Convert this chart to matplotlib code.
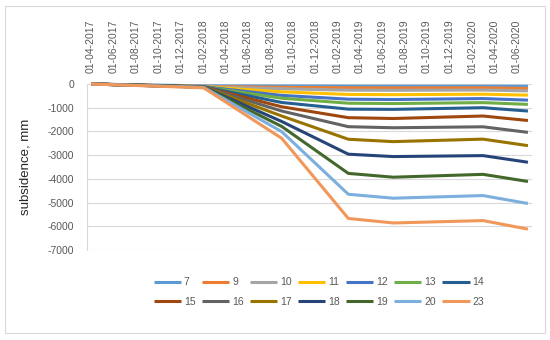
import matplotlib.pyplot as plt
import matplotlib.dates as mdates
from matplotlib.patches import Rectangle
import pandas as pd

# -----------------------------
# data
# -----------------------------
dates = pd.to_datetime(["2017-04-01", "2018-02-01", "2018-09-01", "2019-03-01",
                        "2019-07-01", "2020-03-01", "2020-07-01"])

s7 = [0, -80, -85, -90, -92, -90, -95]
s9 = [0, -100, -140, -160, -165, -160, -190]
s10 = [0, -110, -200, -260, -265, -255, -290]
s11 = [0, -115, -330, -440, -450, -430, -470]
s12 = [0, -115, -480, -640, -655, -615, -680]
s13 = [0, -120, -600, -810, -825, -785, -860]
s14 = [0, -120, -780, -1060, -1070, -1000, -1140]
s15 = [0, -125, -960, -1420, -1455, -1350, -1540]
s16 = [0, -125, -1140, -1800, -1845, -1805, -2040]
s17 = [0, -130, -1350, -2330, -2430, -2325, -2600]
s18 = [0, -130, -1580, -2960, -3060, -3020, -3300]
s19 = [0, -135, -1790, -3770, -3930, -3810, -4110]
s20 = [0, -140, -2010, -4650, -4815, -4705, -5040]
s23 = [0, -160, -2290, -5670, -5860, -5760, -6120]

labels = ["7", "9", "10", "11", "12", "13", "14",
          "15", "16", "17", "18", "19", "20", "23"]
series = [s7, s9, s10, s11, s12, s13, s14, s15, s16, s17, s18, s19, s20, s23]

tick_dates = pd.date_range("2017-04-01", "2020-06-01", freq="2MS")
yticks = [0, -1000, -2000, -3000, -4000, -5000, -6000, -7000]

# Excel office palette
colors = ["#5B9BD5", "#ED7D31", "#A5A5A5", "#FFC000", "#4472C4", "#70AD47", "#255E91",
          "#9E480E", "#636363", "#997300", "#264478", "#43682B", "#7CAFDD", "#F1975A"]

plt.rcParams["font.family"] = ["Liberation Sans", "DejaVu Sans"]
grey = "#595959"

fig = plt.figure(figsize=(5.5, 3.4), dpi=100)
fig.patches.append(Rectangle((5 / 550, 1 - 333 / 340), 540 / 550, 327 / 340,
                             transform=fig.transFigure, fill=False,
                             edgecolor="#D9D9D9", linewidth=0.8))

ax = fig.add_axes([87 / 550, 1 - 250 / 340, 445 / 550, 166 / 340])

for vals, lab, c in zip(series, labels, colors):
    ax.plot(dates, vals, color=c, linewidth=2.2, label=lab, clip_on=False,
            solid_capstyle="butt", solid_joinstyle="round")

# y axis
ax.set_ylim(-7000, 0)
ax.set_yticks(yticks)
ax.set_yticklabels([str(v) for v in yticks])
ax.grid(axis="y", color="#D9D9D9", linewidth=0.8)
ax.set_axisbelow(True)
ax.set_ylabel("subsidence, mm", fontsize=9.5, color="#262626", labelpad=12)

# x axis (dates on top)
ax.set_xlim(pd.Timestamp("2017-03-21"), pd.Timestamp("2020-07-12"))
ax.xaxis.tick_top()
ax.set_xticks(tick_dates)
ax.xaxis.set_major_formatter(mdates.DateFormatter("%d-%m-%Y"))
ax.tick_params(axis="x", rotation=90, length=0, pad=8, labelsize=7.5, labelcolor=grey)
ax.tick_params(axis="y", length=0, pad=9, labelsize=7.5, labelcolor=grey)

for side in ["top", "right", "bottom"]:
    ax.spines[side].set_visible(False)
ax.spines["left"].set_color("#D9D9D9")
ax.spines["left"].set_linewidth(0.8)

# legend, two rows of seven (matplotlib fills by column, so interleave)
handles, labs = ax.get_legend_handles_labels()
order = [i for pair in zip(range(7), range(7, 14)) for i in pair]
fig.legend([handles[i] for i in order], [labs[i] for i in order],
           loc="center", bbox_to_anchor=(0.58, 0.141),
           ncol=7, frameon=False, fontsize=7.5, handlelength=2.6, handletextpad=0.3,
           columnspacing=0.6, labelspacing=0.9, labelcolor=grey)

fig.savefig("out.png", dpi=100)
